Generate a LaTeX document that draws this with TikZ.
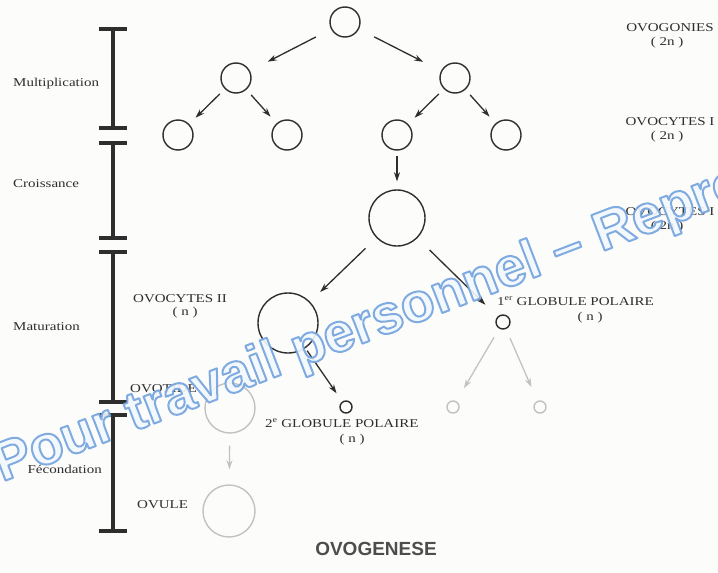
\documentclass[tikz,border=0pt]{standalone}
\usepackage{fontspec}
\setmainfont{Liberation Serif}
\newfontfamily\labfont[FakeStretch=1.25]{Liberation Serif}
\newfontfamily\titlefont{Liberation Sans}
\newfontfamily\wmfont{Liberation Sans}
\usetikzlibrary{arrows.meta}
\definecolor{ink}{HTML}{2E2E2E}
\definecolor{faint}{HTML}{C2C2C2}
\definecolor{wmfill}{HTML}{F3F8FD}
\definecolor{bg}{HTML}{FCFCFA}
\begin{document}
\begin{tikzpicture}[x=1pt,y=-1pt,
  cell/.style={circle,draw=ink,line width=1.4pt,inner sep=0pt},
  fcell/.style={circle,draw=faint,line width=1.4pt,inner sep=0pt},
  arr/.style={draw=ink,line width=1.3pt,-{Stealth[length=9pt,width=6pt]}},
  farr/.style={draw=faint,line width=1.3pt,-{Stealth[length=9pt,width=6pt]}},
  bar/.style={draw=ink,line width=3.2pt},
  phase/.style={font=\labfont\fontsize{12}{13}\selectfont,text=ink,inner sep=0pt},
  lab/.style={font=\labfont\fontsize{12}{13}\selectfont,text=ink,inner sep=0pt}]
\useasboundingbox[fill=bg] (0,0) rectangle (718,573);

% time scale
\foreach \a/\b [count=\i] in {29/128,143/238,252/402,415/531}{
  \coordinate (t\i a) at (113,\a);
  \coordinate (t\i b) at (113,\b);
  \draw[bar] (t\i a) -- (t\i b);
  \draw[bar] ([xshift=-14pt]t\i a) -- ([xshift=14pt]t\i a);
  \draw[bar] ([xshift=-14pt]t\i b) -- ([xshift=14pt]t\i b);
}
\node[phase,anchor=mid west] (p1) at (13,84) {Multiplication};
\node[phase,anchor=mid west] (p2) at (13,185) {Croissance};
\node[phase,anchor=mid west] (p3) at (13,328) {Maturation};
\node[phase,anchor=mid east] (p4) at (102,471) {Fécondation};

% cells
\node[cell,minimum size=30pt] (g0) at (345,22) {};
\node[cell,minimum size=30pt] (g1a) at (236,78) {};
\node[cell,minimum size=30pt] (g1b) at (455,78) {};
\node[cell,minimum size=30pt] (g2a) at (178,135) {};
\node[cell,minimum size=30pt] (g2b) at (287,135) {};
\node[cell,minimum size=30pt] (g2c) at (397,135) {};
\node[cell,minimum size=30pt] (g2d) at (506,135) {};
\node[cell,minimum size=56pt] (oc1) at (397,218) {};
\node[cell,minimum size=60pt] (oc2) at (288,323) {};
\node[cell,minimum size=12pt] (gp2) at (346,407) {};
\node[cell,minimum size=14pt] (gp1) at (503,322) {};
\node[fcell,minimum size=12pt] (gp1a) at (453,407) {};
\node[fcell,minimum size=12pt] (gp1b) at (540,407) {};
\node[fcell,minimum size=50pt] (ovt) at (230,408) {};
\node[fcell,minimum size=52pt] (ovu) at (229,511) {};

% arrows
\draw[arr,shorten <=17pt,shorten >=20pt] (g0) -- (g1a);
\draw[arr,shorten <=17pt,shorten >=20pt] (g0) -- (g1b);
\draw[arr,shorten <=7pt,shorten >=9pt] (g1a) -- (g2a);
\draw[arr,shorten <=7pt,shorten >=9pt] (g1a) -- (g2b);
\draw[arr,shorten <=7pt,shorten >=9pt] (g1b) -- (g2c);
\draw[arr,shorten <=7pt,shorten >=9pt] (g1b) -- (g2d);
\draw[arr,shorten <=5pt,shorten >=8pt] (g2c) -- (oc1);
\draw[arr,shorten <=15pt,shorten >=14pt] (oc1) -- (oc2);
\draw[arr,shorten <=17pt,shorten >=17pt] (oc1) -- (gp1);
\draw[arr,shorten <=3pt,shorten >=10pt] (oc2) -- (gp2);
\draw[farr,shorten <=10pt,shorten >=15pt] (gp1) -- (gp1a);
\draw[farr,shorten <=10pt,shorten >=15pt] (gp1) -- (gp1b);
\draw[farr,shorten <=12pt,shorten >=15pt] (ovt) -- (ovu);

% labels
\node[lab,anchor=mid] (l1) at (670,29) {OVOGONIES};
\node[lab,anchor=mid] (l1n) at (667,43) {( 2n )};
\node[lab,anchor=mid] (l2) at (670,123) {OVOCYTES I};
\node[lab,anchor=mid] (l2n) at (667,137) {( 2n )};
\node[lab,anchor=mid] (l3) at (670,213) {OVOCYTES I};
\node[lab,anchor=mid] (l3n) at (667,227) {( 2n )};
\node[lab,anchor=mid west] (l4) at (133,300) {OVOCYTES II};
\node[lab,anchor=mid] (l4n) at (185,313) {( n )};
\node[lab,anchor=mid west] (l5) at (130,390) {OVOTIDE};
\node[lab,anchor=mid west] (l6) at (265,425) {2\textsuperscript{e} GLOBULE POLAIRE};
\node[lab,anchor=mid] (l6n) at (352,440) {( n )};
\node[lab,anchor=mid west] (l7) at (497,303) {1\textsuperscript{er} GLOBULE POLAIRE};
\node[lab,anchor=mid] (l7n) at (590,318) {( n )};
\node[lab,anchor=mid west] (l8) at (137,506) {OVULE};
\node[font=\titlefont\bfseries\fontsize{19}{21}\selectfont,text=ink!85,inner sep=0pt] (title) at (376,549) {OVOGENESE};

% watermark
\begin{scope}
\clip (0,0) rectangle (718,573);
\node[rotate=21,anchor=base west,inner sep=0pt,text=wmfill,opacity=0.9,
  font=\wmfont\bfseries\fontsize{55}{60}\selectfont] (wm) at (2,482)
  {\special{pdf:code 2 Tr 2 w 1 j 0.45 0.64 0.87 RG}Pour travail personnel – Repro\special{pdf:code 0 Tr}};
\end{scope}
\end{tikzpicture}
\end{document}
